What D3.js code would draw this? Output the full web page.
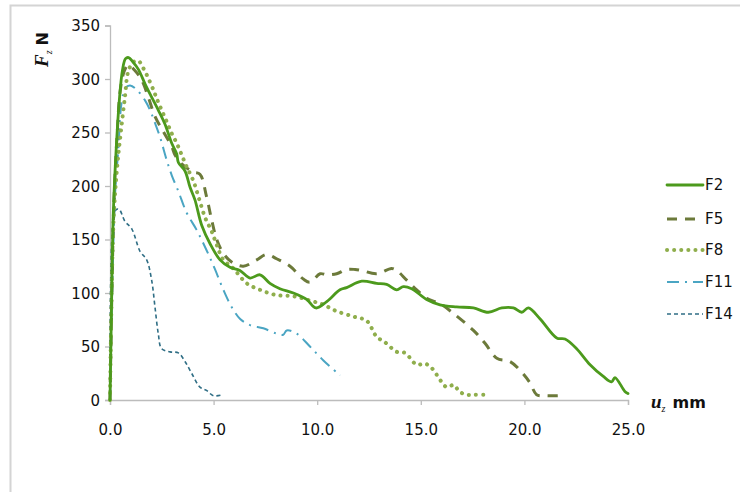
<!DOCTYPE html>
<html>
<head>
<meta charset="utf-8">
<script src="https://cdn.jsdelivr.net/npm/d3@7"></script>
<style>
  body { margin: 0; background: #fff; }
  svg text { font-family: "DejaVu Sans", sans-serif; fill: #111; }
</style>
</head>
<body>
<svg id="chart" width="740" height="492"></svg>
<script>
// u_z (mm), F_z (N) pairs
var f2 = [[0,0],[0.05,60],[0.1,120],[0.16,175],[0.3,235],[0.45,280],[0.6,308],[0.75,319],[0.9,320],[1.1,316],[1.37,309],[1.7,295],[2.01,283],[2.33,271],[2.65,258],[2.98,240],[3.22,230],[3.3,222],[3.62,214],[3.86,199],[4.1,187],[4.43,163],[4.83,146],[5.31,131],[5.79,124],[6.27,121],[6.76,114],[7.24,117],[7.72,109],[8.2,104],[8.85,100],[9.49,94],[9.94,86],[10.46,92],[11.1,103],[11.42,105],[12.15,111],[12.87,109],[13.35,108],[13.84,103],[14.16,106],[14.56,104],[15.28,94],[15.93,89],[16.73,87],[17.54,86],[18.26,82],[18.91,86],[19.47,86],[19.87,82],[20.19,86],[20.75,76],[21.56,58],[21.96,57],[22.52,48],[23.17,33],[23.81,22],[24.21,17],[24.37,21],[24.85,8],[25.0,6]];
var f5 = [[0,0],[0.1,110],[0.2,190],[0.35,250],[0.5,290],[0.7,308],[0.88,313],[1.2,308],[1.53,299],[1.85,283],[2.17,265],[2.6,250],[2.98,237],[3.14,229],[3.5,220],[4.02,213],[4.34,211],[4.66,190],[4.91,168],[5.15,150],[5.47,137],[5.87,129],[6.43,125],[7.08,131],[7.56,136],[8.04,132],[8.69,125],[9.33,113],[9.65,110],[10.14,118],[10.46,117],[10.94,118],[11.42,122],[11.83,122],[12.15,121],[12.87,118],[13.59,123],[13.84,121],[14.32,112],[14.8,103],[15.28,95],[15.93,90],[16.57,81],[17.54,65],[18.1,53],[18.67,39],[19.3,36],[19.87,26],[20.27,16],[20.59,5],[21.0,4],[21.64,4]];
var f8 = [[0,0],[0.16,162],[0.32,212],[0.48,243],[0.72,283],[0.88,307],[1.13,316],[1.37,317],[1.61,310],[1.77,304],[2.09,290],[2.25,282],[2.49,271],[2.74,260],[2.98,249],[3.22,240],[3.46,229],[3.7,218],[4.02,205],[4.3,188],[4.6,170],[4.9,158],[5.15,145],[5.47,131],[5.95,123],[6.6,109],[7.24,103],[8.04,98],[8.85,97],[9.65,93],[10.3,89],[10.94,83],[11.74,78],[12.39,74],[12.87,59],[13.27,54],[13.84,45],[14.24,44],[14.8,33],[15.2,34],[15.52,30],[16.0,17],[16.25,12],[16.6,14],[16.85,8],[17.2,5],[17.6,5],[18.02,5]];
var f11 = [[0,0],[0.24,190],[0.4,234],[0.56,278],[0.75,292],[0.97,294],[1.29,290],[1.69,280],[1.93,271],[2.17,259],[2.41,246],[2.74,224],[2.98,210],[3.3,195],[3.7,175],[4.18,159],[4.66,140],[5.07,122],[5.47,103],[5.87,87],[6.27,76],[6.76,70],[7.4,67],[8.04,62],[8.36,61],[8.53,65],[9.01,62],[9.65,50],[10.3,37],[11.1,23]];
var f14 = [[0,0],[0.13,162],[0.3,178],[0.45,178],[0.72,167],[1.05,160],[1.45,139],[1.77,131],[2.01,112],[2.17,87],[2.33,62],[2.49,48],[2.9,45],[3.3,44],[3.62,36],[3.94,25],[4.34,12],[4.66,9],[4.99,4],[5.47,5]];

var seriesNames = ["F2", "F5", "F8", "F11", "F14"];
var xTicks = [0, 5, 10, 15, 20, 25];
var yTicks = [0, 50, 100, 150, 200, 250, 300, 350];

var styles = {
  F2:  { color: "#4c9a1c", width: 2.8, dash: null, cap: "round" },
  F5:  { color: "#6c7a3a", width: 3, dash: "10 8", cap: "butt" },
  F8:  { color: "#8fae4c", width: 4, dash: "0.1 7", cap: "round" },
  F11: { color: "#4aa5c3", width: 2, dash: "12 6 2 6", cap: "butt" },
  F14: { color: "#2f6e85", width: 1.6, dash: "4 3", cap: "butt" }
};

var svg = d3.select("#chart");

// outer frame (only top and left edges show in the window)
svg.append("rect")
  .attr("x", 10.5).attr("y", 5.5)
  .attr("width", 900).attr("height", 700)
  .attr("fill", "none").attr("stroke", "#d4d4d4").attr("stroke-width", 2);

var x = d3.scaleLinear().domain([0, 25]).range([110, 628]);
var y = d3.scaleLinear().domain([0, 350]).range([400, 25.5]);

var yAxis = svg.append("g")
  .attr("transform", "translate(110,0)")
  .call(d3.axisLeft(y).tickValues(yTicks).tickSize(5).tickPadding(5).tickFormat(d3.format("d")));
var xAxis = svg.append("g")
  .attr("transform", "translate(0,400)")
  .call(d3.axisBottom(x).tickValues(xTicks).tickSize(5).tickPadding(19).tickFormat(d3.format(".1f")));

[xAxis, yAxis].forEach(function(a) {
  a.select(".domain").attr("stroke", "#bcbcbc").attr("stroke-width", 1.3);
  a.selectAll(".tick line").attr("stroke", "#bcbcbc").attr("stroke-width", 1.3);
  a.selectAll(".tick text").attr("font-size", 15).attr("font-family", "DejaVu Sans").attr("fill", "#111");
});
yAxis.selectAll(".tick text").attr("dy", "0.36em");

var line = d3.line()
  .x(function(d) { return x(d[0]); })
  .y(function(d) { return y(d[1]); })
  .curve(d3.curveCatmullRom.alpha(0.5));

var data = { F2: f2, F5: f5, F8: f8, F11: f11, F14: f14 };

// draw back to front so F2 sits on top
["F14", "F11", "F5", "F8", "F2"].forEach(function(name) {
  var s = styles[name];
  svg.append("path")
    .datum(data[name])
    .attr("d", line)
    .attr("fill", "none")
    .attr("stroke", s.color)
    .attr("stroke-width", s.width)
    .attr("stroke-dasharray", s.dash)
    .attr("stroke-linecap", s.cap)
    .attr("stroke-linejoin", "round");
});

// legend
var legendY = [185, 219, 250, 282, 314];
var legend = svg.append("g");
seriesNames.forEach(function(name, i) {
  var s = styles[name];
  legend.append("line")
    .attr("x1", 667).attr("x2", 703)
    .attr("y1", legendY[i]).attr("y2", legendY[i])
    .attr("stroke", s.color)
    .attr("stroke-width", s.width)
    .attr("stroke-dasharray", s.dash)
    .attr("stroke-linecap", s.cap);
  legend.append("text")
    .attr("x", 705).attr("y", legendY[i])
    .attr("dy", "0.36em")
    .attr("font-size", 15)
    .text(name);
});

// y axis title: F_z N
var yt = svg.append("text")
  .attr("transform", "translate(48,67) rotate(-90)")
  .attr("font-size", 16);
yt.append("tspan").attr("font-family", "Liberation Serif").attr("font-style", "italic").attr("font-weight", "bold").attr("font-size", 19).text("F");
yt.append("tspan").attr("font-family", "Liberation Serif").attr("font-style", "italic").attr("font-size", 10).attr("dy", 4).text("z");
yt.append("tspan").attr("font-weight", "bold").attr("dy", -4).attr("dx", 5).text("N");

// x axis title: u_z mm
var xt = svg.append("text")
  .attr("x", 651).attr("y", 408)
  .attr("font-size", 16);
xt.append("tspan").attr("font-family", "Liberation Serif").attr("font-style", "italic").attr("font-weight", "bold").attr("font-size", 19).text("u");
xt.append("tspan").attr("font-family", "Liberation Serif").attr("font-style", "italic").attr("font-size", 10).attr("dy", 4).text("z");
xt.append("tspan").attr("font-weight", "bold").attr("dy", -4).attr("dx", 7).text("mm");
</script>
</body>
</html>
